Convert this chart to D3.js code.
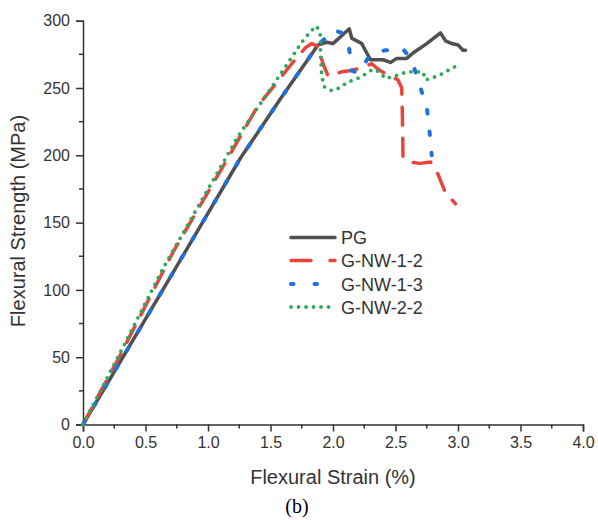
<!DOCTYPE html>
<html>
<head>
<meta charset="utf-8">
<script src="https://cdn.jsdelivr.net/npm/d3@7"></script>
<style>
  body { margin: 0; background: #fff; }
  svg text { font-family: "Liberation Sans", Arial, sans-serif; fill: #333; }
</style>
</head>
<body>
<svg id="chart" width="598" height="520"></svg>
<script>
// series: [strain %, strength MPa]
const pgData = [[0,0],[0.74,116],[1.26,198],[1.58,242],[1.88,282],[1.95,284],[2.0,283],[2.13,294],[2.15,287],
  [2.19,285],[2.23,283],[2.27,276],[2.3,271],[2.4,271],[2.46,269],[2.51,272],[2.59,272],[2.64,276],
  [2.75,283],[2.86,291],[2.9,285],[2.95,283],[3.0,282],[3.04,278],[3.06,278]];
const nw12Data = [[0,0],[0.3,52],[0.72,128],[1.24,211],[1.4,237],[1.55,254],[1.67,268],[1.78,280],[1.83,283],
  [1.88,281],[1.92,268],[1.96,259],[2.0,260],[2.07,262],[2.15,263],[2.22,265],[2.31,268],[2.36,264],
  [2.45,259],[2.52,256],[2.55,250],[2.555,230],[2.56,199],[2.6,195],[2.7,194],[2.78,195],[2.84,186],
  [2.9,172],[2.95,167],[2.98,164]];
const nw13Data = [[0,0],[0.74,116],[1.26,198],[1.58,242],[1.88,282],[1.95,288],[2.0,293],[2.07,291],[2.13,279],
  [2.15,263],[2.2,261],[2.28,272],[2.35,277],[2.42,278],[2.5,278],[2.56,279],[2.62,272],[2.66,262],
  [2.7,250],[2.75,236],[2.77,220],[2.79,200]];
const nw22Data = [[0,0],[0.34,61],[0.64,116],[1.24,214],[1.6,263],[1.75,284],[1.82,292],[1.87,296],[1.9,289],
  [1.9,276],[1.91,259],[1.93,251],[1.99,248],[2.05,250],[2.11,254],[2.22,258],[2.32,264],[2.37,262],
  [2.42,257],[2.5,259],[2.59,262],[2.67,262],[2.72,262],[2.74,256],[2.84,259],[2.92,263],[2.98,266]];
const seriesNames = ["PG", "G-NW-1-2", "G-NW-1-3", "G-NW-2-2"];
const xTicks = [0, 0.5, 1, 1.5, 2, 2.5, 3, 3.5, 4];
const yTicks = [0, 50, 100, 150, 200, 250, 300];

const svg = d3.select("#chart");
const x = d3.scaleLinear().domain([0, 4]).range([83, 583]);
const y = d3.scaleLinear().domain([0, 300]).range([424.5, 20.7]);

// line styles for each series
const styles = [
  { color: "#505050", width: 3.5, dash: null, cap: "round" },
  { color: "#e8453c", width: 3.5, dash: "18 13", cap: "round" },
  { color: "#1f6fe0", width: 4, dash: "3.5 18", cap: "round" },
  { color: "#2ea85a", width: 3.8, dash: "0 7.5", cap: "round" }
];
const allData = [pgData, nw12Data, nw13Data, nw22Data];

// axes
const xAxis = d3.axisBottom(x).tickValues(xTicks).tickSize(7).tickPadding(5)
  .tickFormat(d3.format(".1f"));
const yAxis = d3.axisLeft(y).tickValues(yTicks).tickSize(7).tickPadding(6);

const gx = svg.append("g").attr("transform", "translate(0,424.5)").call(xAxis);
const gy = svg.append("g").attr("transform", "translate(83,0)").call(yAxis);

// minor ticks
gx.selectAll(".minor").data(d3.range(0.25, 4, 0.5)).enter().append("line")
  .attr("class", "minor")
  .attr("x1", d => x(d)).attr("x2", d => x(d))
  .attr("y1", 0).attr("y2", 4);
gy.selectAll(".minor").data(d3.range(25, 300, 50)).enter().append("line")
  .attr("class", "minor")
  .attr("y1", d => y(d)).attr("y2", d => y(d))
  .attr("x1", 0).attr("x2", -4);

[gx, gy].forEach(g => {
  g.select(".domain").attr("stroke", "#333").attr("stroke-width", 1.5);
  g.selectAll(".tick line, line.minor").attr("stroke", "#333").attr("stroke-width", 1.5);
  g.selectAll("text").attr("font-size", 16).attr("fill", "#333")
    .attr("font-family", "'Liberation Sans', Arial, sans-serif");
});

// lines
const line = d3.line().x(d => x(d[0])).y(d => y(d[1]));
svg.selectAll(".series").data(allData).enter().append("path")
  .attr("class", "series")
  .attr("d", d => line(d))
  .attr("fill", "none")
  .attr("stroke", (d, i) => styles[i].color)
  .attr("stroke-width", (d, i) => styles[i].width)
  .attr("stroke-dasharray", (d, i) => styles[i].dash)
  .attr("stroke-linecap", (d, i) => styles[i].cap)
  .attr("stroke-linejoin", "round");

// legend
const legendY = [237.5, 260.5, 284, 307];
const leg = svg.selectAll(".leg").data(seriesNames).enter().append("g")
  .attr("class", "leg")
  .attr("transform", (d, i) => "translate(0," + legendY[i] + ")");
leg.append("line")
  .attr("x1", 291).attr("x2", 335).attr("y1", 0).attr("y2", 0)
  .attr("stroke", (d, i) => styles[i].color)
  .attr("stroke-width", (d, i) => styles[i].width)
  .attr("stroke-dasharray", (d, i) => i === 1 ? "20 19" : i === 2 ? "2.5 21" : styles[i].dash)
  .attr("stroke-linecap", "round");
leg.append("text")
  .attr("x", 341).attr("y", 6.5)
  .attr("font-size", 18)
  .text(d => d);

// titles
svg.append("text").attr("x", 333).attr("y", 484)
  .attr("text-anchor", "middle").attr("font-size", 20)
  .text("Flexural Strain (%)");
svg.append("text")
  .attr("transform", "translate(25,221) rotate(-90)")
  .attr("text-anchor", "middle").attr("font-size", 20)
  .text("Flexural Strength (MPa)");
svg.append("text").attr("x", 297).attr("y", 513)
  .attr("text-anchor", "middle").attr("font-size", 20)
  .style("font-family", "'Liberation Serif', 'Times New Roman', serif")
  .style("fill", "#000")
  .text("(b)");
</script>
</body>
</html>
